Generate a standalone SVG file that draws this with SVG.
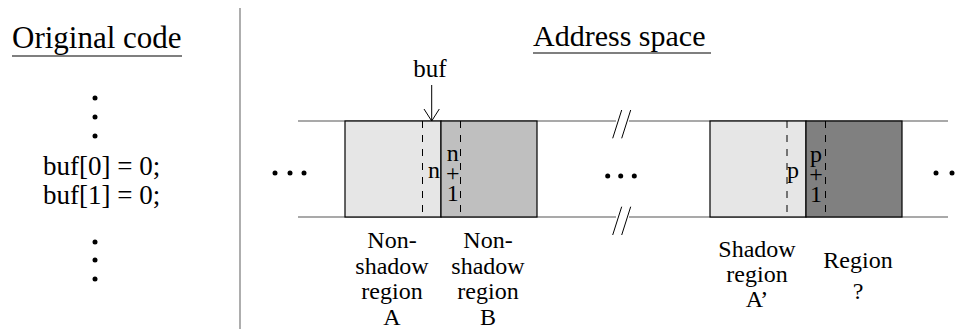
<svg xmlns="http://www.w3.org/2000/svg" width="961" height="331" viewBox="0 0 961 331">
<style>
text{font-family:"Liberation Serif","Times New Roman",serif;fill:#000}
.t{font-size:30px}
.c{font-size:27px}
.l{font-size:24px;text-anchor:middle}
.rail{stroke:#555;stroke-width:1.2;fill:none}
.box{stroke:#000;stroke-width:1.2}
.dash{stroke:#000;stroke-width:1;stroke-dasharray:7,7;fill:none}
.dot{fill:#000}
.thin{stroke:#000;stroke-width:1;fill:none}
</style>
<rect width="961" height="331" fill="#fff"/>
<!-- divider -->
<line x1="240" y1="8" x2="240" y2="329" stroke="#777" stroke-width="1.2"/>
<!-- left column -->
<g id="original-code">
<text class="t" x="12" y="48" font-size="31" style="font-size:31px">Original code</text>
<line x1="12" y1="56" x2="182" y2="56" stroke="#000" stroke-width="1.2"/>
<circle class="dot" cx="95" cy="98" r="2.5"/>
<circle class="dot" cx="95" cy="117" r="2.5"/>
<circle class="dot" cx="95" cy="136" r="2.5"/>
<text class="c" x="101.7" y="175" text-anchor="middle">buf[0] = 0;</text>
<text class="c" x="101.7" y="204" text-anchor="middle">buf[1] = 0;</text>
<circle class="dot" cx="95" cy="242" r="2.5"/>
<circle class="dot" cx="95" cy="260" r="2.5"/>
<circle class="dot" cx="95" cy="279" r="2.5"/>
</g>
<g id="address-space-title">
<text class="t" x="533" y="46">Address space</text>
<line x1="533" y1="53" x2="711" y2="53" stroke="#000" stroke-width="1.2"/>
</g>
<!-- rails -->
<g id="rails">
<line class="rail" x1="298" y1="121" x2="616" y2="121"/>
<line class="rail" x1="629" y1="121" x2="948" y2="121"/>
<line class="rail" x1="298" y1="217" x2="616" y2="217"/>
<line class="rail" x1="629" y1="217" x2="948" y2="217"/>
<line class="thin" x1="612.7" y1="138.3" x2="621.7" y2="110"/>
<line class="thin" x1="621.7" y1="138.3" x2="630.7" y2="110"/>
<line class="thin" x1="612.7" y1="235" x2="621.7" y2="206.7"/>
<line class="thin" x1="621.7" y1="235" x2="630.7" y2="206.7"/>
</g>
<g id="dots-left">
<circle class="dot" cx="275" cy="173" r="2.5"/>
<circle class="dot" cx="290" cy="173" r="2.5"/>
<circle class="dot" cx="304" cy="173" r="2.5"/>
</g>
<g id="dots-mid">
<circle class="dot" cx="607.7" cy="176" r="2.5"/>
<circle class="dot" cx="620.7" cy="176" r="2.5"/>
<circle class="dot" cx="634.3" cy="176" r="2.5"/>
</g>
<g id="dots-right">
<circle class="dot" cx="936" cy="173" r="2.5"/>
<circle class="dot" cx="952" cy="173" r="2.5"/>
</g>
<!-- regions -->
<g id="region-A">
<rect class="box" x="345" y="121" width="96" height="96" fill="#e6e6e6"/>
<line class="dash" x1="422.5" y1="121" x2="422.5" y2="217"/>
<text class="l" x="434" y="178">n</text>
<text class="l" x="392" y="248">Non-</text>
<text class="l" x="392" y="273.5">shadow</text>
<text class="l" x="392" y="299">region</text>
<text class="l" x="392" y="324.5">A</text>
</g>
<g id="region-B">
<rect class="box" x="441" y="121" width="96" height="96" fill="#bfbfbf"/>
<line class="dash" x1="460.5" y1="121" x2="460.5" y2="217"/>
<text class="l" x="452.7" y="161">n</text>
<text class="l" x="452.7" y="181">+</text>
<text class="l" x="452.7" y="201">1</text>
<text class="l" x="488" y="248">Non-</text>
<text class="l" x="488" y="273.5">shadow</text>
<text class="l" x="488" y="299">region</text>
<text class="l" x="488" y="324.5">B</text>
</g>
<g id="region-A-prime">
<rect class="box" x="710" y="121" width="96" height="96" fill="#e6e6e6"/>
<line class="dash" x1="787" y1="121" x2="787" y2="217"/>
<text class="l" x="793" y="178">p</text>
<text class="l" x="757" y="257">Shadow</text>
<text class="l" x="757" y="282">region</text>
<text class="l" x="757" y="307">A’</text>
</g>
<g id="region-unknown">
<rect class="box" x="806" y="121" width="96" height="96" fill="#808080"/>
<line class="dash" x1="825.5" y1="121" x2="825.5" y2="217"/>
<text class="l" x="816" y="162">p</text>
<text class="l" x="816" y="182">+</text>
<text class="l" x="816" y="202">1</text>
<text class="l" x="858" y="268">Region</text>
<text class="l" x="858" y="299">?</text>
</g>
<g id="buf-label">
<text class="l" x="430" y="77" style="font-size:25px">buf</text>
</g>
<g id="connectors">
<line class="thin" x1="431.7" y1="85" x2="431.7" y2="121"/>
<polyline class="thin" points="424,109 431.7,121 439.3,109"/>
</g>
</svg>
